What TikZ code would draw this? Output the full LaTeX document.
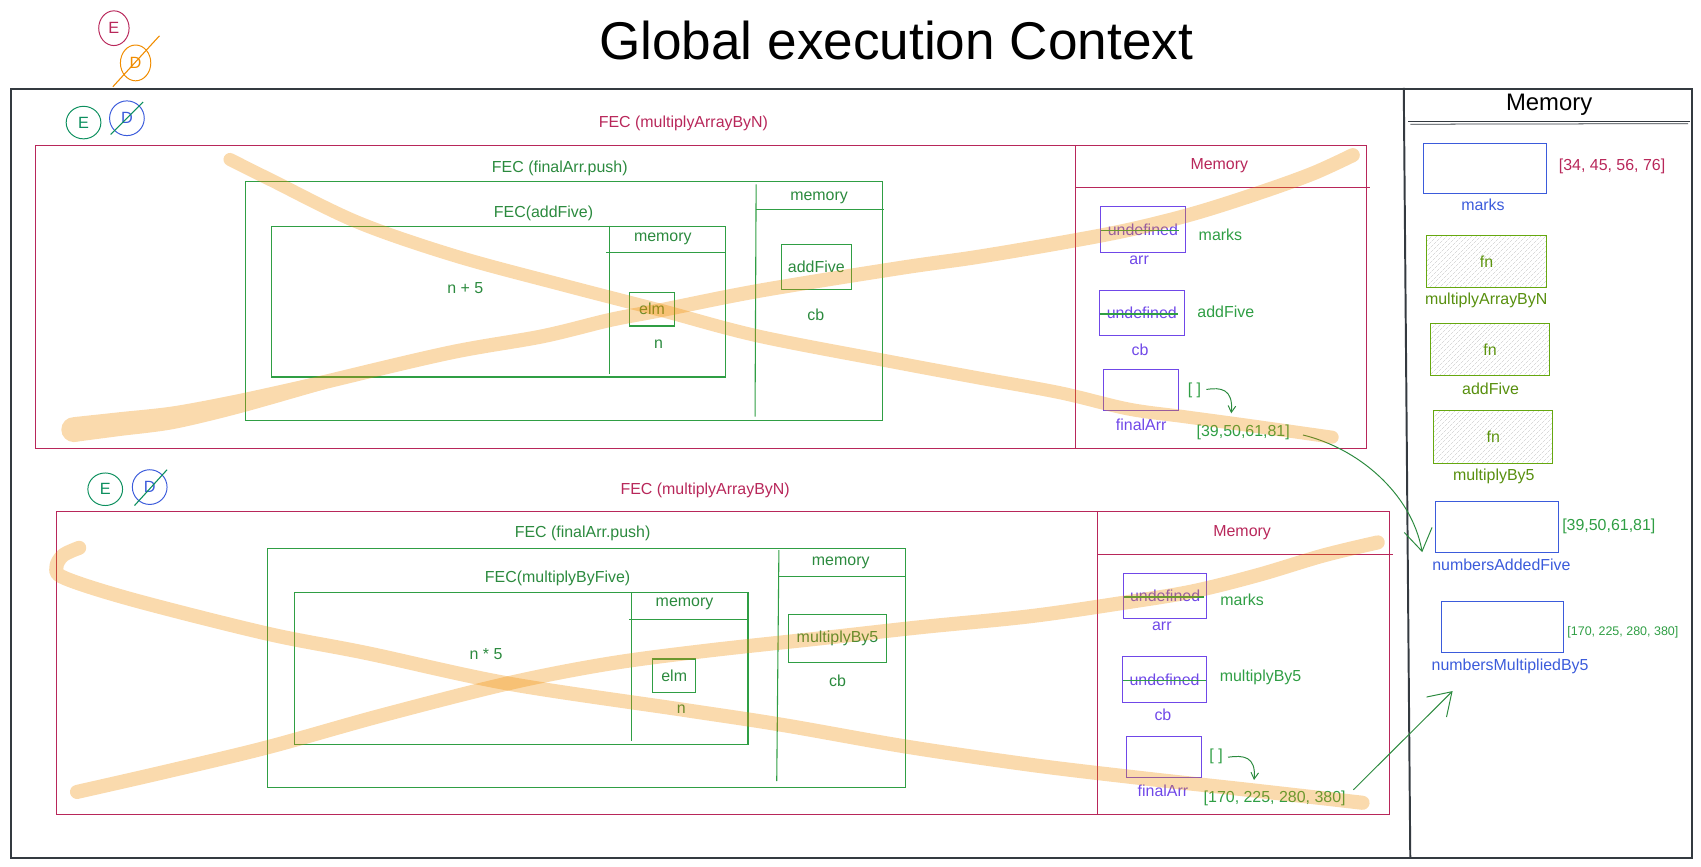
\documentclass[tikz,border=0pt]{standalone}
\usepackage{fontspec}
\setmainfont{Liberation Sans}
\usetikzlibrary{arrows.meta,patterns.meta,shapes.geometric,calc}
\definecolor{crim}{HTML}{B8275A}
\definecolor{grn}{HTML}{2F9E44}
\definecolor{dgrn}{HTML}{2B8A3E}
\definecolor{tealE}{HTML}{0C8F5E}
\definecolor{purp}{HTML}{7048E8}
\definecolor{blu}{HTML}{3B5BDB}
\definecolor{oliv}{HTML}{66A80F}
\definecolor{olivtxt}{HTML}{5C940D}
\definecolor{orng}{HTML}{F08C00}
\definecolor{frm}{HTML}{343A40}
\tikzset{
  lbl/.style={inner sep=0pt, font=\fontsize{14.7}{17}\selectfont},
  smalllbl/.style={inner sep=0pt, font=\fontsize{11.5}{13}\selectfont},
  bx/.style={draw, line width=1pt, inner sep=0pt, anchor=north west},
  edc/.style={ellipse, draw, line width=0.9pt, inner sep=0pt, font=\fontsize{15}{17}\selectfont},
  ln/.style={line width=1pt},
  strike/.style={draw=grn, line width=1.3pt},
  scr/.style={draw=orng, draw opacity=0.32, line width=13pt, line cap=round, line join=round},
  scrsolid/.style={draw=orng, line cap=round, line join=round},
  arrw/.style={draw=dgrn, line width=0.9pt, -{Straight Barb[length=20pt,width=26pt]}},
  arrsmall/.style={draw=dgrn, line width=0.9pt, -{Straight Barb[length=6pt,width=7pt]}},
  hatch/.style={pattern={Lines[angle=45,distance=4pt,line width=0.45pt]}, pattern color=gray!45},
}
\begin{document}
\begin{tikzpicture}[x=1pt,y=-1pt]
\useasboundingbox (0,0) rectangle (1568,799);

% title
\node[inner sep=0pt, font=\fontsize{49}{52}\selectfont] (title) at (826,37) {Global execution Context};

% outer frame
\node[bx, draw=frm, line width=1.8pt, minimum width=1550pt, minimum height=709pt] (frame) at (9,81) {};
\draw[frm, line width=1.8pt] (1294,81) -- (1300,790);
\node[inner sep=0pt, font=\fontsize{22}{24}\selectfont] (gmemT) at (1428,97) {Memory};
\draw[frm, line width=1pt] (1298,112) -- (1558,112);
\draw[frm, line width=0.7pt] (1300,114.5) -- (1556,114);

% E / D markers
\node[edc, draw=crim, text=crim, minimum width=28pt, minimum height=32pt] (e0) at (105,26) {E};
\node[edc, draw=orng, text=orng, minimum width=28pt, minimum height=33pt] (d0) at (125,58) {D};
\draw[orng, line width=1pt] (104,80) -- (147,33);
\node[edc, draw=tealE, text=tealE, minimum width=32pt, minimum height=30pt] (e1) at (77,113) {E};
\node[edc, draw=blu, text=blu, minimum width=32pt, minimum height=32pt] (d1) at (117,109) {D};
\draw[tealE, line width=1pt] (102,124) -- (132,94);
\node[edc, draw=tealE, text=tealE, minimum width=32pt, minimum height=30pt] (e2) at (97,451) {E};
\node[edc, draw=blu, text=blu, minimum width=32pt, minimum height=32pt] (d2) at (138,449) {D};
\draw[tealE, line width=1pt] (124,466) -- (154,433);

% ================= FEC 1 =================
\node[bx, draw=crim, minimum width=1227pt, minimum height=279pt] (fec1) at (32,134) {};
\node[lbl, text=crim] (fec1l) at (630,114) {FEC (multiplyArrayByN)};
\draw[crim, ln] (991,134) -- (991,413);
\draw[crim, ln] (991,173) -- (1263,173);
\node[lbl, text=crim] (mem1) at (1124,153) {Memory};

\node[bx, draw=purp, minimum width=78pt, minimum height=42pt] (arr1) at (1014,190) {};
\node[lbl, text=purp] (arr1u) at (arr1.center) {undefined};
\draw[strike] ([xshift=1pt,yshift=-1pt]arr1.west) -- ([xshift=-6pt,yshift=-1pt]arr1.east);
\node[lbl, text=purp] (arr1n) at (1050,240) {arr};
\node[lbl, text=grn] (arr1v) at (1125,216) {marks};

\node[bx, draw=purp, minimum width=78pt, minimum height=42pt] (cb1) at (1013,267) {};
\node[lbl, text=purp] (cb1u) at (cb1.center) {undefined};
\draw[strike] ([xshift=1pt,yshift=-1pt]cb1.west) -- ([xshift=-6pt,yshift=-1pt]cb1.east);
\node[lbl, text=purp] (cb1n) at (1051,322) {cb};
\node[lbl, text=grn] (cb1v) at (1130,287) {addFive};

\node[bx, draw=purp, minimum width=69pt, minimum height=38pt] (fa1) at (1017,340) {};
\node[lbl, text=purp] (fa1n) at (1052,392) {finalArr};
\node[lbl, text=grn] (br1) at (1101,360) {[ ]};
\node[lbl, text=grn] (val1) at (1146,399) {[39,50,61,81]};
\coordinate (br1s) at (1112,359);
\coordinate (br1t) at (1135,381);
\draw[arrsmall] (br1s) .. controls (1125,357) and (1137,358) .. (br1t);

% FEC (finalArr.push) 1
\node[bx, draw=grn, minimum width=587pt, minimum height=220pt] (push1) at (226,167) {};
\node[lbl, text=dgrn] (push1l) at (516,155) {FEC (finalArr.push)};
\draw[grn, ln] (697,170) -- (696,384);
\draw[grn, ln] (697,193) -- (815,193);
\node[lbl, text=dgrn] (push1m) at (755,182) {memory};
\node[bx, draw=grn, minimum width=64pt, minimum height=41pt] (cbbox1) at (720,225) {};
\node[lbl, text=dgrn] (cbbox1t) at (cbbox1.center) {addFive};
\node[lbl, text=dgrn] (cbbox1n) at (752,290) {cb};

% FEC(addFive)
\node[bx, draw=grn, minimum width=418pt, minimum height=139pt] (af) at (250,208) {};
\node[lbl, text=dgrn] (afl) at (501,197) {FEC(addFive)};
\draw[grn, ln] (562,208) -- (562,345);
\draw[grn, ln] (559,233) -- (668,233);
\node[lbl, text=dgrn] (afm) at (611,220) {memory};
\node[lbl, text=dgrn] (afexpr) at (429,266) {n + 5};
\node[bx, draw=grn, minimum width=41pt, minimum height=31pt] (elm1) at (580,269) {};
\node[lbl, text=dgrn] (elm1t) at (elm1.center) {elm};
\node[lbl, text=dgrn] (elm1n) at (607,317) {n};

% ================= FEC 2 =================
\node[bx, draw=crim, minimum width=1228pt, minimum height=279pt] (fec2) at (52,471) {};
\node[lbl, text=crim] (fec2l) at (650,452) {FEC (multiplyArrayByN)};
\draw[crim, ln] (1012,471) -- (1012,750);
\draw[crim, ln] (1012,511) -- (1284,511);
\node[lbl, text=crim] (mem2) at (1145,491) {Memory};

\node[bx, draw=purp, minimum width=77pt, minimum height=42pt] (arr2) at (1035,528) {};
\node[lbl, text=purp] (arr2u) at (arr2.center) {undefined};
\draw[strike] ([xshift=1pt,yshift=-1pt]arr2.west) -- ([xshift=-3pt,yshift=-1pt]arr2.east);
\node[lbl, text=purp] (arr2n) at (1071,577) {arr};
\node[lbl, text=grn] (arr2v) at (1145,553) {marks};

\node[bx, draw=purp, minimum width=78pt, minimum height=42pt] (cb2) at (1034,605) {};
\node[lbl, text=purp] (cb2u) at (cb2.center) {undefined};
\draw[strike] ([xshift=1pt,yshift=-1pt]cb2.west) -- ([xshift=-1pt,yshift=-1pt]cb2.east);
\node[lbl, text=purp] (cb2n) at (1072,659) {cb};
\node[lbl, text=grn] (cb2v) at (1162,624) {multiplyBy5};

\node[bx, draw=purp, minimum width=69pt, minimum height=38pt] (fa2) at (1038,678) {};
\node[lbl, text=purp] (fa2n) at (1072,729) {finalArr};
\node[lbl, text=grn] (br2) at (1121,697) {[ ]};
\node[lbl, text=grn] (val2) at (1175,736) {[170, 225, 280, 380]};
\coordinate (br2s) at (1132,698);
\coordinate (br2t) at (1156,719);
\draw[arrsmall] (br2s) .. controls (1146,696) and (1158,697) .. (br2t);

% FEC (finalArr.push) 2
\node[bx, draw=grn, minimum width=588pt, minimum height=220pt] (push2) at (246,505) {};
\node[lbl, text=dgrn] (push2l) at (537,492) {FEC (finalArr.push)};
\draw[grn, ln] (718,507) -- (716,720);
\draw[grn, ln] (718,531) -- (835,531);
\node[lbl, text=dgrn] (push2m) at (775,519) {memory};
\node[bx, draw=grn, minimum width=91pt, minimum height=44pt] (cbbox2) at (726,566) {};
\node[lbl, text=dgrn] (cbbox2t) at (cbbox2.center) {multiplyBy5};
\node[lbl, text=dgrn] (cbbox2n) at (772,628) {cb};

% FEC(multiplyByFive)
\node[bx, draw=grn, minimum width=418pt, minimum height=140pt] (mf) at (271,546) {};
\node[lbl, text=dgrn] (mfl) at (514,533) {FEC(multiplyByFive)};
\draw[grn, ln] (582,546) -- (582,683);
\draw[grn, ln] (580,571) -- (689,571);
\node[lbl, text=dgrn] (mfm) at (631,557) {memory};
\node[lbl, text=dgrn] (mfexpr) at (448,603) {n * 5};
\node[bx, draw=grn, minimum width=40pt, minimum height=31pt] (elm2) at (601,607) {};
\node[lbl, text=dgrn] (elm2t) at (elm2.center) {elm};
\node[lbl, text=dgrn] (elm2n) at (628,654) {n};

% ================= Global memory =================
\node[bx, draw=blu, minimum width=113pt, minimum height=46pt] (gmarks) at (1312,132) {};
\node[lbl, text=blu] (gmarksn) at (1367,189) {marks};
\node[lbl, text=crim] (gmarksv) at (1486,153) {[34, 45, 56, 76]};

\node[bx, draw=oliv, hatch, minimum width=110pt, minimum height=48pt] (gmab) at (1315,217) {};
\node[lbl, text=olivtxt] (gmabt) at (gmab.center) {fn};
\node[lbl, text=oliv!85!black] (gmabn) at (1370,277) {multiplyArrayByN};

\node[bx, draw=oliv, hatch, minimum width=110pt, minimum height=48pt] (gaf) at (1318,298) {};
\node[lbl, text=olivtxt] (gaft) at (gaf.center) {fn};
\node[lbl, text=oliv!85!black] (gafn) at (1374,358) {addFive};

\node[bx, draw=oliv, hatch, minimum width=110pt, minimum height=49pt] (gmb) at (1321,378) {};
\node[lbl, text=olivtxt] (gmbt) at (gmb.center) {fn};
\node[lbl, text=oliv!85!black] (gmbn) at (1377,439) {multiplyBy5};

\node[bx, draw=blu, minimum width=113pt, minimum height=47pt] (nAF) at (1323,462) {};
\node[lbl, text=grn] (nAFv) at (1483,485) {[39,50,61,81]};
\node[lbl, text=blu] (nAFn) at (1384,521) {numbersAddedFive};

\node[bx, draw=blu, minimum width=113pt, minimum height=47pt] (nMB) at (1328,554) {};
\node[smalllbl, text=grn] (nMBv) at (1496,583) {[170, 225, 280, 380]};
\node[lbl, text=blu] (nMBn) at (1392,614) {numbersMultipliedBy5};

% result arrows
\draw[arrw] ([xshift=12pt,yshift=-2pt]val1.east) .. controls +(50,12) and +(-10,-55) .. ([xshift=-12pt,yshift=1pt]nAF.south west);
\draw[arrw] ([xshift=7pt,yshift=8pt]val2.east) -- ([xshift=-53pt,yshift=-16pt]nMBn.south);

% ================= scribbles =================
\draw[scr, line width=12pt] plot[smooth, tension=0.55] coordinates {(212,147) (250,166) (330,205) (420,236) (520,263) (609,286) (700,310) (830,335) (900,348) (977,362) (1040,377) (1091,384) (1150,392) (1228,403)};
\begin{scope}[transparency group, opacity=0.32]
\fill[orng] (68,396) circle[radius=11.5];
\fill[orng] plot[smooth, tension=0.5] coordinates {(68,384.5) (110,380) (160,374.5) (221,363) (300,345.5)}
  -- plot[smooth, tension=0.5] coordinates {(300,358.5) (221,381) (160,395.5) (110,402) (68,407.5)} -- cycle;
\draw[scrsolid, line width=13pt] plot[smooth, tension=0.55] coordinates {(68,396) (110,391) (160,385) (221,372) (300,352) (415,325) (500,310) (562,295) (609,286) (700,268) (830,247) (900,237) (977,224) (1040,212) (1100,197) (1160,178) (1210,160) (1247,143)};
\end{scope}
\draw[scr] plot[smooth, tension=0.55] coordinates {(73,505) (58,512) (52,523) (60,533) (123,553) (246,584) (338,602) (468,630) (628,654) (720,668) (834,688) (950,705) (1050,717) (1150,728) (1256,740)};
\draw[scr] plot[smooth, tension=0.55] coordinates {(71,730) (150,712) (246,689) (350,660) (468,630) (560,612) (650,600) (760,588) (850,578) (950,568) (1040,555) (1100,545) (1160,530) (1220,512) (1270,500)};
\end{tikzpicture}
\end{document}
